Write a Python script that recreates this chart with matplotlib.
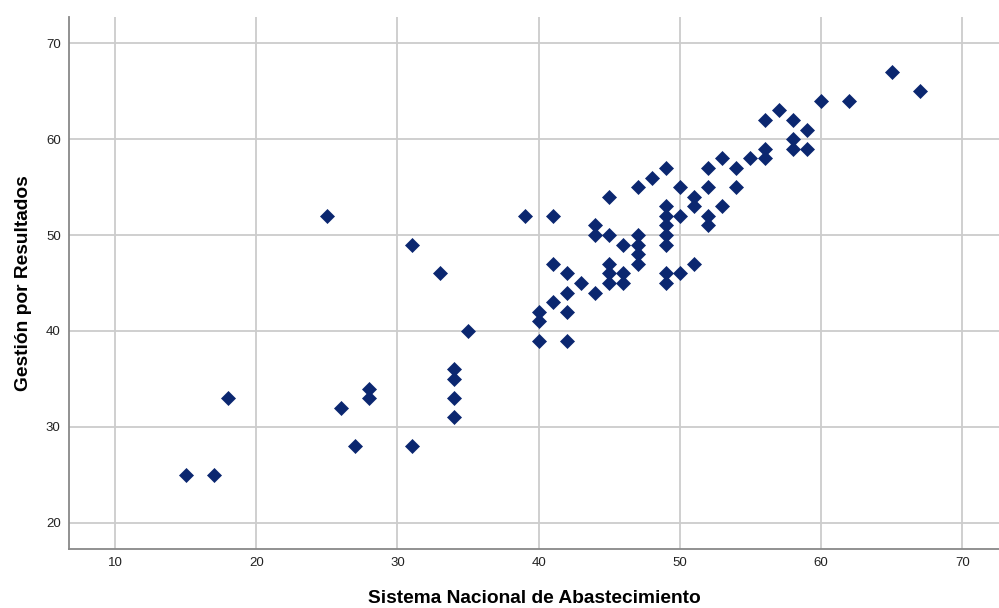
import matplotlib.pyplot as plt

plt.rcParams['font.family'] = ['Liberation Sans', 'DejaVu Sans']

# Sistema Nacional de Abastecimiento (x) vs Gestion por Resultados (y)
sna = [15, 17, 18, 25, 26, 27, 28, 28, 31, 31, 33, 34, 34, 34, 34, 35,
       39, 40, 40, 40, 41, 41, 41, 42, 42, 42, 42, 43, 44, 44, 44,
       45, 45, 45, 45, 45, 46, 46, 46, 47, 47, 47, 47, 47, 48,
       49, 49, 49, 49, 49, 49, 49, 49, 50, 50, 50, 51, 51, 51,
       52, 52, 52, 52, 53, 53, 54, 54, 55, 56, 56, 56, 57,
       58, 58, 58, 59, 59, 60, 62, 65, 67]
gpr = [25, 25, 33, 52, 32, 28, 34, 33, 49, 28, 46, 36, 35, 33, 31, 40,
       52, 42, 41, 39, 52, 47, 43, 46, 44, 42, 39, 45, 51, 50, 44,
       54, 50, 47, 46, 45, 49, 46, 45, 55, 50, 49, 48, 47, 56,
       57, 53, 52, 51, 50, 49, 46, 45, 55, 52, 46, 54, 53, 47,
       57, 55, 52, 51, 58, 53, 57, 55, 58, 62, 59, 58, 63,
       62, 60, 59, 61, 59, 64, 64, 67, 65]

fig = plt.figure(figsize=(9.99, 6.08), dpi=100)
ax = fig.add_axes([0.0691, 0.097, 0.9309, 0.875])

ax.plot(sna, gpr, linestyle='none', marker='D', markersize=7,
        color='#0b2770', markeredgewidth=0.5, zorder=3)

ax.set_xlim(6.74, 72.6)
ax.set_ylim(17.26, 72.74)
ax.set_xticks([10, 20, 30, 40, 50, 60, 70])
ax.set_yticks([20, 30, 40, 50, 60, 70])
ax.grid(True, color='#cccccc', linewidth=1.3)
ax.set_axisbelow(True)

for s in ['top', 'right']:
    ax.spines[s].set_visible(False)
for s in ['left', 'bottom']:
    ax.spines[s].set_color('#888888')
    ax.spines[s].set_linewidth(1.3)

ax.tick_params(length=0, labelsize=9.5, colors='#222222', pad=6)

ax.set_xlabel('Sistema Nacional de Abastecimiento', fontsize=13.8,
              fontweight='bold', labelpad=15)
ax.set_ylabel('Gestión por Resultados', fontsize=13.8, fontweight='bold',
              labelpad=10)

fig.savefig('out.png', dpi=100)
